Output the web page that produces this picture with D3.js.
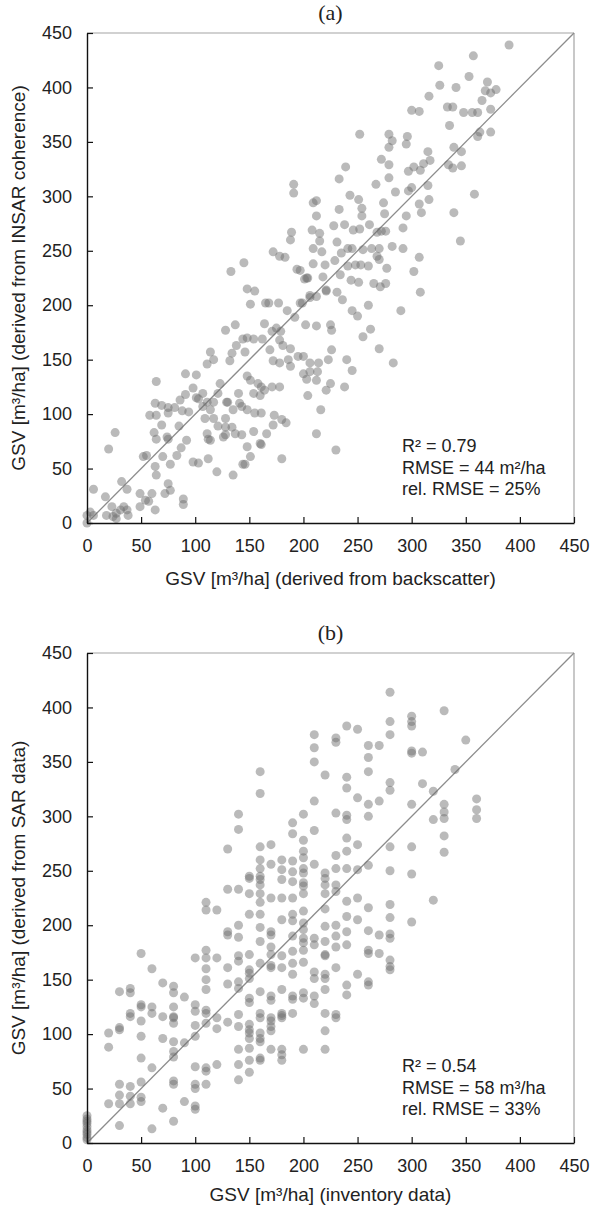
<!DOCTYPE html>
<html lang="en">
<head>
<meta charset="utf-8">
<title>GSV scatter plots</title>
<script src="https://cdn.jsdelivr.net/npm/d3@7"></script>
<style>
  body { margin: 0; background: #fff; }
  text { font-family: Arial, "Liberation Sans", sans-serif; fill: #222; }
</style>
</head>
<body>
<script>

// ---- data -------------------------------------------------------------
// (a) backscatter-derived GSV vs InSAR-coherence-derived GSV
var pointsA = [
  [390,439],[357,429],[325,420],[353,410],[370,405],[326,402],[341,400],[368,397],[373,395],[378,398],
  [316,392],[365,388],[333,382],[338,382],[300,379],[307,378],[348,377],[356,377],[361,377],[373,380],
  [335,365],[252,357],[279,357],[282,351],[279,345],[296,355],[295,348],[363,359],[373,359],[361,355],
  [339,345],[346,341],[315,341],[317,333],[311,330],[272,334],[279,329],[334,329],[338,326],[346,328],
  [239,327],[233,316],[297,323],[302,327],[308,324],[279,317],[267,311],[315,310],[285,304],[297,305],
  [300,308],[243,301],[251,297],[358,302],[209,294],[212,296],[233,288],[254,289],[254,282],[274,294],
  [275,284],[307,293],[309,285],[316,297],[339,285],[212,282],[295,282],[228,273],[238,274],[261,274],
  [208,269],[215,266],[215,259],[209,252],[217,249],[246,269],[252,270],[268,267],[272,268],[276,268],
  [292,271],[345,259],[231,258],[245,252],[255,251],[263,252],[270,252],[282,254],[292,252],[235,248],
  [241,252],[229,241],[220,237],[209,238],[197,232],[241,236],[248,237],[253,237],[260,236],[277,234],
  [268,245],[270,242],[307,244],[302,231],[203,225],[218,226],[234,228],[244,223],[251,221],[265,220],
  [271,217],[276,220],[231,212],[221,214],[308,212],[206,209],
  [191,303],[191,311],[189,267],[188,260],[172,249],[178,245],[183,244],[145,239],[133,231],[194,233],
  [201,224],[204,225],
  [148,215],[155,213],[151,201],[165,202],[168,202],[177,202],[197,202],[199,202],[206,207],[212,208],
  [221,213],[185,195],[192,189],[164,183],[171,176],[175,179],[179,176],[202,182],[212,181],[225,182],
  [226,177],[137,182],[128,177],[154,169],[162,169],[144,169],[148,170],[138,163],[134,156],[132,149],
  [146,157],[178,168],[188,160],[181,163],[169,159],[172,149],[178,147],[186,150],[188,144],[195,153],
  [200,153],[206,147],[214,147],[223,150],[226,159],[200,137],[206,139],[213,139],[203,132],[212,131],
  [225,128],[221,122],[204,117],[216,104],[212,82],[230,67],[114,157],[117,150],[111,146],[123,128],
  [121,119],[148,135],[151,131],[158,128],[161,125],[164,122],[160,117],[154,119],[140,119],[141,110],
  [148,104],[155,101],[161,101],[129,111],[130,111],[135,104],[143,107],[171,125],[178,125],[173,99],
  [180,95],[184,92],[172,90],[166,82],[154,84],[160,73],[161,72],[148,70],[151,61],[146,54],
  [144,54],[180,59],[117,96],[121,89],[128,88],[128,96],[134,88],[126,79],[128,81],[137,82],
  [143,81],[111,82],[112,77],[114,76],[109,96],[114,104],[107,107],[117,111],[111,111],[107,119],
  [98,124],[101,115],[103,114],[91,118],[86,113],[81,106],[75,106],[69,108],[63,110],[64,99],
  [64,130],[58,99],[91,137],[101,136],[88,103],[94,102],[69,90],[75,101],[85,89],[62,83],
  [64,77],[75,77],[74,79],[92,76],[87,69],[83,62],[70,61],[77,54],[63,52],[55,62],
  [52,61],[98,56],[103,55],[120,47],[112,59],[135,44],[26,83],[20,68],[64,44],[32,38],
  [37,31],[6,31],[17,24],[49,27],[54,21],[57,20],[60,27],[49,15],[75,36],[77,30],
  [72,27],[63,12],[89,22],[89,17],[23,15],[18,7],[24,6],[27,9],[31,12],[34,15],
  [37,12],[38,7],[27,4],[3,10],[6,7],[0,7],[0,0],
  [236,205],[245,195],[250,190],[262,178],[255,171],[270,160],[283,147],[240,150],[238,125],[245,140],
  [260,200],[290,195]
];

// (b) inventory GSV (discrete x) vs SAR-derived GSV
var columnsB = [
  [0,   [3,5,8,10,12,15,18,20,22,25]],
  [20,  [101,88,36]],
  [30,  [139,106,104,54,44,36,16]],
  [40,  [142,138,119,116,52,43,36]],
  [50,  [174,127,125,112,98,78,56,42,38]],
  [60,  [160,125,119,69,13]],
  [70,  [147,116,96,32]],
  [80,  [144,138,125,116,115,110,93,84,79,57,54,20]],
  [90,  [134,92,38]],
  [100, [170,127,121,108,98,70,54,50,34,31]],
  [110, [221,214,177,170,160,150,141,122,119,110,69,66,54]],
  [120, [214,170,115,105,72]],
  [130, [270,233,194,191,161,146,111]],
  [140, [302,288,233,200,189,172,167,148,142,118,107,86,72,58]],
  [150, [245,243,229,210,173,159,156,151,133,129,109,104,101,96,87,76,65]],
  [160, [341,321,272,260,252,245,242,237,229,221,210,198,185,165,139,119,115,101,96,93,78,76]],
  [170, [274,256,225,194,191,180,173,163,161,135,131,115,112,107,103,86]],
  [180, [260,251,242,225,205,172,161,141,119,117,115,86,81,76]],
  [190, [294,284,259,249,240,225,210,204,190,176,165,155,135,132,119]],
  [200, [302,278,268,262,252,248,239,236,229,213,202,196,188,184,177,166,138,133,86]],
  [210, [375,363,350,314,287,256,188,182,157,151,135,128]],
  [220, [338,248,243,237,229,215,199,185,173,172,155,151,141,119,103,86]],
  [230, [372,368,303,264,252,237,231,200,190,180,161,118,115]],
  [240, [383,336,326,301,297,280,268,252,222,208,194,182,145,136]],
  [250, [380,317,274,251,225,205,155]],
  [260, [365,354,341,311,300,255,216,195,177,174,148,145]],
  [270, [365,314,191,174]],
  [280, [414,387,375,331,324,272,250,219,207,192,188,168,162,159]],
  [300, [392,387,383,360,358,311,272,247,203]],
  [310, [359,330]],
  [320, [323,297,223]],
  [330, [397,311,304,298,282,267]],
  [340, [343]],
  [350, [370]],
  [360, [316,306,298]]
];

var tickValues = [0, 50, 100, 150, 200, 250, 300, 350, 400, 450];

var panelTitles = ["(a)", "(b)"];
var xTitles = ["GSV [m³/ha] (derived from backscatter)", "GSV [m³/ha] (inventory data)"];
var yTitles = ["GSV [m³/ha] (derived from INSAR coherence)", "GSV [m³/ha] (derived from SAR data)"];
var statsA = ["R² = 0.79", "RMSE = 44 m²/ha", "rel. RMSE = 25%"];
var statsB = ["R² = 0.54", "RMSE = 58 m³/ha", "rel. RMSE = 33%"];

// ---- layout -------------------------------------------------------------
var W = 593, H = 1212;
var left = 87, plotW = 487, plotH = 490;
var tops = [33, 653];
var xTitleOffset = [62, 58];

var svg = d3.select("body").append("svg")
  .attr("width", W)
  .attr("height", H);

var pointsB = [];
columnsB.forEach(function (c) {
  c[1].forEach(function (v) { pointsB.push([c[0], v]); });
});

function drawPanel(i, pts, stats) {
  var g = svg.append("g").attr("transform", "translate(" + left + "," + tops[i] + ")");

  var x = d3.scaleLinear().domain([0, 450]).range([0, plotW]);
  var y = d3.scaleLinear().domain([0, 450]).range([plotH, 0]);

  // gray top / right frame
  g.append("line").attr("x1", 0).attr("x2", plotW).attr("y1", 0).attr("y2", 0)
    .attr("stroke", "#a3a3a3").attr("stroke-width", 1.2);
  g.append("line").attr("x1", plotW).attr("x2", plotW).attr("y1", 0).attr("y2", plotH)
    .attr("stroke", "#a3a3a3").attr("stroke-width", 1.2);

  // 1:1 line
  g.append("line")
    .attr("x1", x(0)).attr("y1", y(0))
    .attr("x2", x(450)).attr("y2", y(450))
    .attr("stroke", "#8c8c8c").attr("stroke-width", 1.3);

  // points
  g.append("g").selectAll("circle")
    .data(pts)
    .enter()
    .append("circle")
    .attr("cx", function (d) { return x(d[0]); })
    .attr("cy", function (d) { return y(d[1]); })
    .attr("r", 4.5)
    .attr("fill", "#6e6e6e")
    .attr("fill-opacity", 0.48);

  // axes
  var xAxis = g.append("g")
    .attr("transform", "translate(0," + plotH + ")")
    .call(d3.axisBottom(x).tickValues(tickValues).tickSizeInner(-6).tickSizeOuter(0).tickPadding(16));
  var yAxis = g.append("g")
    .call(d3.axisLeft(y).tickValues(tickValues).tickSizeInner(-6).tickSizeOuter(0).tickPadding(15));

  [xAxis, yAxis].forEach(function (a) {
    a.attr("font-size", 18).attr("font-family", "Arial, 'Liberation Sans', sans-serif");
    a.select(".domain").attr("stroke", "#111").attr("stroke-width", 1.4);
    a.selectAll(".tick line").attr("stroke", "#111").attr("stroke-width", 1.2);
    a.selectAll(".tick text").attr("fill", "#222");
  });

  // stats
  g.append("g").selectAll("text")
    .data(stats)
    .enter()
    .append("text")
    .attr("x", 315)
    .attr("y", function (d, j) { return plotH - 71 + j * 21.5; })
    .attr("font-size", 18)
    .text(function (d) { return d; });

  // titles
  svg.append("text")
    .attr("x", left + plotW / 2)
    .attr("y", tops[i] - 13)
    .attr("text-anchor", "middle")
    .attr("font-size", 22)
    .style("font-family", "'Times New Roman', 'Liberation Serif', serif")
    .text(panelTitles[i]);

  svg.append("text")
    .attr("x", left + plotW / 2)
    .attr("y", tops[i] + plotH + xTitleOffset[i])
    .attr("text-anchor", "middle")
    .attr("font-size", 19)
    .text(xTitles[i]);

  svg.append("text")
    .attr("transform", "translate(25," + (tops[i] + plotH / 2) + ") rotate(-90)")
    .attr("text-anchor", "middle")
    .attr("font-size", 19)
    .text(yTitles[i]);
}

drawPanel(0, pointsA, statsA);
drawPanel(1, pointsB, statsB);

</script>
</body>
</html>
